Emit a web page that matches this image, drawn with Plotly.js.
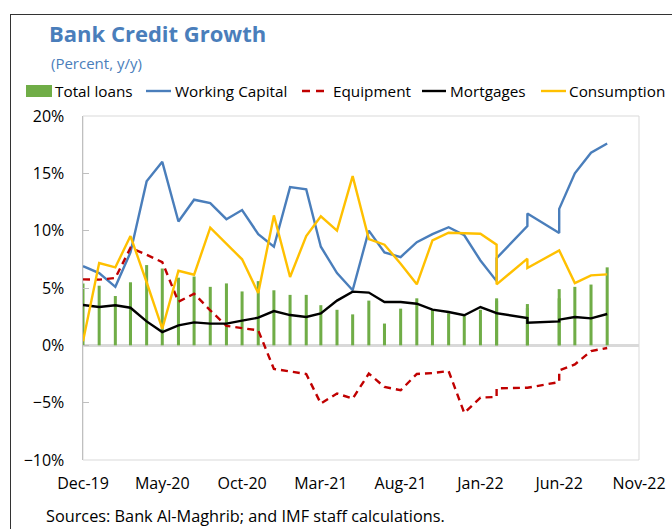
<!DOCTYPE html>
<html>
<head>
<meta charset="utf-8">
<script src="https://cdn.plot.ly/plotly-3.0.1.min.js"></script>
<style>
  html, body { margin: 0; padding: 0; background: #fff; }
  #wrap { position: relative; width: 672px; height: 529px; overflow: hidden; }
  #chart { position: absolute; left: 0; top: 0; width: 672px; height: 529px; }
  #frame { position: absolute; left: 10px; top: 14px; width: 700px; height: 600px;
           border-left: 1.5px solid #333; border-top: 1.5px solid #333; pointer-events: none; }
</style>
</head>
<body>
<div id="wrap"><div id="chart"></div><div id="frame"></div></div>
<script>
// ---- Data (percent, y/y) ----
const dates = ['2019-12-01','2020-01-01','2020-02-01','2020-03-01','2020-04-01','2020-05-01',
  '2020-06-01','2020-07-01','2020-08-01','2020-09-01','2020-10-01','2020-11-01','2020-12-01',
  '2021-01-01','2021-02-01','2021-03-01','2021-04-01','2021-05-01','2021-06-01','2021-07-01',
  '2021-08-01','2021-09-01','2021-10-01','2021-11-01','2021-12-01','2022-01-01','2022-02-01',
  '2022-02-01','2022-04-01','2022-04-01','2022-06-01','2022-06-01','2022-07-01','2022-08-01',
  '2022-09-01'];
const totalLoans = [5.4,5.2,4.3,5.5,7.0,6.7,5.9,6.0,5.1,5.4,4.7,5.6,4.8,4.4,4.4,3.5,3.1,2.7,3.9,1.9,
  3.2,4.1,3.1,2.8,2.55,3.1,4.1,3.9,3.6,3.25,4.9,4.1,5.1,5.3,6.8];
const workingCapital = [6.9,6.3,5.1,8.1,14.3,16.0,10.8,12.7,12.4,11.0,11.8,9.7,8.6,13.8,13.6,8.6,6.3,
  4.8,10.0,8.1,7.7,9.0,9.7,10.3,9.6,7.4,5.6,7.6,10.4,11.5,9.8,11.9,15.0,16.8,17.6];
const equipment = [5.75,5.73,5.87,8.5,7.9,7.26,3.8,4.5,3.05,1.7,1.5,1.31,-2.06,-2.27,-2.5,-5.08,-4.2,
  -4.65,-2.47,-3.63,-3.92,-2.5,-2.42,-2.24,-5.9,-4.56,-4.5,-3.75,-3.72,-3.7,-3.2,-2.18,-1.66,-0.5,-0.23];
const mortgages = [3.52,3.34,3.49,3.28,2.09,1.16,1.74,2.0,1.89,1.89,2.15,2.41,2.99,2.64,2.47,2.79,3.9,
  4.68,4.6,3.78,3.78,3.63,3.11,2.91,2.62,3.34,2.82,2.8,2.38,1.98,2.09,2.24,2.47,2.35,2.73];
const consumption = [0.35,7.18,6.8,9.53,5.5,1.45,6.5,6.16,10.26,8.87,7.5,4.56,11.33,5.96,9.53,11.25,
  10.0,14.76,9.27,8.78,7.12,5.32,9.15,9.82,9.79,9.73,8.78,5.32,7.56,6.74,8.28,8.28,5.43,6.1,6.19];
const xTickVals = ['2019-12-01','2020-05-01','2020-10-01','2021-03-01','2021-08-01','2022-01-01','2022-06-01','2022-11-01'];
const xTickText = ['Dec-19','May-20','Oct-20','Mar-21','Aug-21','Jan-22','Jun-22','Nov-22'];
const seriesNames = ['Total loans','Working Capital','Equipment','Mortgages','Consumption'];

// ---- Styling ----
const FONT = 'Open Sans, Noto Sans, DejaVu Sans, sans-serif';
const C = { green:'#70AD47', blue:'#4A7EBB', red:'#C00000', black:'#000000', yellow:'#FFC000' };
const W = 672, H = 529, ML = 83, MR = 33, MT = 116, MB = 69;
const PW = W - ML - MR, PH = H - MT - MB;
const px = v => (v - ML) / PW;           // pixel -> paper x
const py = v => (H - MB - v) / PH;       // pixel -> paper y

const DAY = 86400000;
const LW = 2.4;
const traces = [
  { type:'bar', x:dates, y:totalLoans, name:seriesNames[0], width:5.8*DAY,
    marker:{ color:C.green, line:{width:0} }, hoverinfo:'skip' },
  { type:'scatter', mode:'lines', x:dates, y:workingCapital, name:seriesNames[1],
    line:{ color:C.blue, width:LW } },
  { type:'scatter', mode:'lines', x:dates, y:equipment, name:seriesNames[2],
    line:{ color:C.red, width:LW, dash:'7px,5px' } },
  { type:'scatter', mode:'lines', x:dates, y:mortgages, name:seriesNames[3],
    line:{ color:C.black, width:LW } },
  { type:'scatter', mode:'lines', x:dates, y:consumption, name:seriesNames[4],
    line:{ color:C.yellow, width:LW } }
];

// manual legend (short symbols, as in the original)
const legY = 91;
const shapes = [
  { type:'rect', xref:'paper', yref:'paper', x0:0, x1:1, y0:0, y1:1, line:{color:'#d9d9d9', width:1}, layer:'below' },
  { type:'rect', xref:'paper', yref:'paper', x0:px(26), x1:px(52), y0:py(97), y1:py(85), fillcolor:C.green, line:{width:0} },
  { type:'line', xref:'paper', yref:'paper', x0:px(146), x1:px(171), y0:py(legY), y1:py(legY), line:{color:C.blue, width:LW} },
  { type:'line', xref:'paper', yref:'paper', x0:px(302), x1:px(327), y0:py(legY), y1:py(legY), line:{color:C.red, width:LW, dash:'8px,6px'} },
  { type:'line', xref:'paper', yref:'paper', x0:px(422), x1:px(446), y0:py(legY), y1:py(legY), line:{color:C.black, width:LW} },
  { type:'line', xref:'paper', yref:'paper', x0:px(541), x1:px(566), y0:py(legY), y1:py(legY), line:{color:C.yellow, width:LW} }
];
const legTextX = [53, 173, 331, 448, 567];
const annotations = seriesNames.map((n, i) => ({
  xref:'paper', yref:'paper', x:px(legTextX[i]), y:py(legY), xanchor:'left', yanchor:'middle',
  text:n, showarrow:false, font:{family:FONT, size:15.3, color:'#000'}
}));
annotations.push({ xref:'paper', yref:'paper', x:px(49), y:py(63), xanchor:'left', yanchor:'middle',
  text:'(Percent, y/y)', showarrow:false, font:{family:FONT, size:15, color:C.blue} });
annotations.push({ xref:'paper', yref:'paper', x:px(44), y:py(516), xanchor:'left', yanchor:'middle',
  text:'Sources: Bank Al-Maghrib; and IMF staff calculations.', showarrow:false,
  font:{family:FONT, size:16.3, color:'#000'} });

const layout = {
  width:W, height:H, margin:{l:ML, r:MR, t:MT, b:MB, pad:0},
  paper_bgcolor:'#fff', plot_bgcolor:'#fff',
  showlegend:false, barmode:'overlay',
  font:{family:FONT, size:16, color:'#000'},
  title:{ text:'<b>Bank Credit Growth</b>', xref:'container', yref:'container', x:49/W, xanchor:'left',
          y:1 - 34/H, yanchor:'middle', font:{family:FONT, size:22, color:C.blue} },
  xaxis:{ type:'date', range:['2019-12-01','2022-11-01'], tickvals:xTickVals, ticktext:xTickText,
          showgrid:false, zeroline:false, showline:false, ticks:'', ticklabelstandoff:12,
          tickfont:{family:FONT, size:16, color:'#000'}, fixedrange:true },
  yaxis:{ range:[-10,20], dtick:5, ticksuffix:'%', showgrid:false, zeroline:true,
          zerolinecolor:'#d9d9d9', zerolinewidth:2.5, showline:true, linecolor:'#bfbfbf', linewidth:1.5,
          ticks:'inside', ticklen:6, tickcolor:'#bfbfbf', tickwidth:1, ticklabelstandoff:14,
          tickfont:{family:FONT, size:16, color:'#000'}, fixedrange:true },
  shapes:shapes, annotations:annotations
};

Plotly.newPlot('chart', traces, layout, {displayModeBar:false, staticPlot:true});
</script>
</body>
</html>
